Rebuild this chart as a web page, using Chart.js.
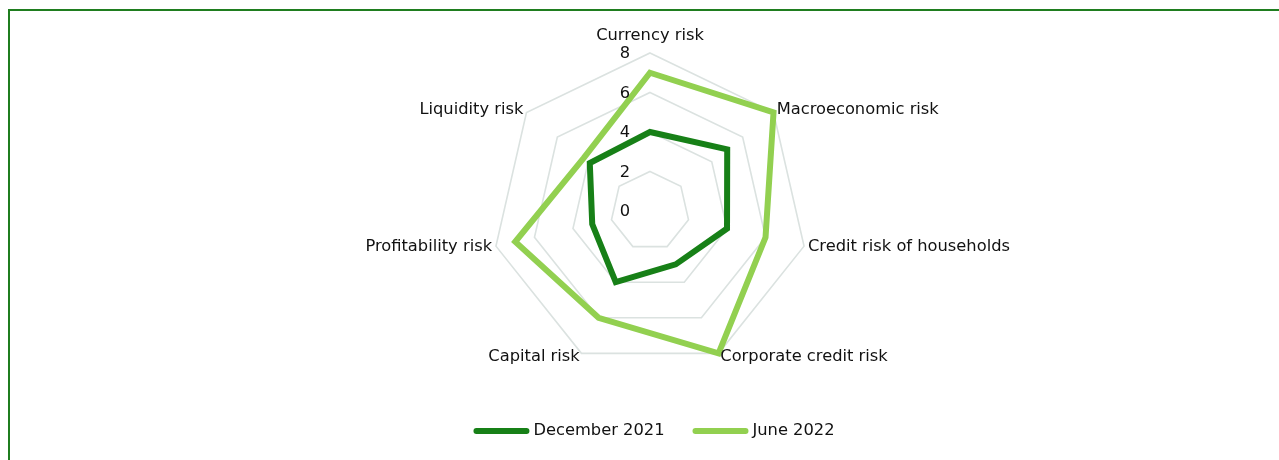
<!DOCTYPE html>
<html lang="en">
<head>
  <meta charset="UTF-8" />
  <title>Risk map</title>
  <style>
    body {
      margin: 0; padding: 0;
      background: #ffffff;
      font-family: 'DejaVu Sans', sans-serif;
    }
    .wrap {
      position: relative;
      width: 1279px;
      height: 460px;
      overflow: hidden;
    }
    .frame {
      position: absolute;
      left: 8px; top: 9px;
      width: 1400px; height: 600px;
      border-top: 2px solid #1f7d1f;
      border-left: 2px solid #1f7d1f;
    }
    canvas { position: absolute; left: 0; top: 0; }
  </style>
</head>
<body>
  <div class="wrap">
    <div class="frame"></div>
    <canvas id="riskChart" width="1279" height="460"></canvas>
  </div>

  <script src="https://cdn.jsdelivr.net/npm/chart.js"></script>
  <script>
    // Data
    const riskLabels = ['Currency risk', 'Macroeconomic risk', 'Credit risk of households',
      'Corporate credit risk', 'Capital risk', 'Profitability risk', 'Liquidity risk'];
    const dec2021 = [4, 5, 4, 3, 4, 3, 3.9];
    const jun2022 = [7, 8, 6, 8, 6, 7, 4.3];
    const tickValues = [0, 2, 4, 6, 8];

    const DARK = '#178017';
    const LIGHT = '#92d050';
    const FONT = "16.3px 'DejaVu Sans', sans-serif";

    // labels, ticks and legend drawn the Excel way
    const excelLook = {
      id: 'excelLook',
      afterDraw(chart) {
        const ctx = chart.ctx;
        const r = chart.scales.r;
        ctx.save();
        ctx.font = FONT;
        ctx.fillStyle = '#111111';
        ctx.textBaseline = 'middle';

        // category labels just outside the outer ring
        riskLabels.forEach((lab, i) => {
          const p = r.getPointPosition(i, r.drawingArea + 4);
          const cos = Math.cos(p.angle);
          let y = p.y;
          if (Math.abs(cos) < 0.01) {
            ctx.textAlign = 'center';
            y -= 13;
          } else {
            ctx.textAlign = cos > 0 ? 'left' : 'right';
          }
          ctx.fillText(lab, p.x, y);
        });

        // value ticks, left of the vertical axis
        ctx.textAlign = 'center';
        tickValues.forEach(v => {
          const d = r.getDistanceFromCenterForValue(v);
          ctx.fillText(String(v), r.xCenter - 25, r.yCenter - d + 1);
        });

        // legend
        const lineLen = 56, gap = 4, spacing = 28, ly = 431;
        const items = chart.data.datasets.map(ds => ({
          text: ds.label, color: ds.borderColor,
          w: lineLen + gap + ctx.measureText(ds.label).width
        }));
        const total = items.reduce((s, it) => s + it.w, 0) + spacing * (items.length - 1);
        let x = 654 - total / 2;
        ctx.textAlign = 'left';
        items.forEach(it => {
          ctx.strokeStyle = it.color;
          ctx.lineWidth = 6;
          ctx.lineCap = 'round';
          ctx.beginPath();
          ctx.moveTo(x + 3, ly);
          ctx.lineTo(x + lineLen - 3, ly);
          ctx.stroke();
          ctx.fillText(it.text, x + lineLen + gap, ly);
          x += it.w + spacing;
        });
        ctx.restore();
      }
    };

    new Chart(document.getElementById('riskChart'), {
      type: 'radar',
      data: {
        labels: riskLabels,
        datasets: [
          {
            label: 'December 2021',
            data: dec2021,
            borderColor: DARK,
            backgroundColor: DARK,
            borderWidth: 6,
            borderJoinStyle: 'miter',
            pointRadius: 0,
            fill: false
          },
          {
            label: 'June 2022',
            data: jun2022,
            borderColor: LIGHT,
            backgroundColor: LIGHT,
            borderWidth: 6,
            borderJoinStyle: 'miter',
            pointRadius: 0,
            fill: false
          }
        ]
      },
      options: {
        responsive: false,
        animation: false,
        devicePixelRatio: 1,
        layout: { padding: { top: 53, bottom: 91, left: 492, right: 471 } },
        plugins: {
          legend: { display: false },
          tooltip: { enabled: false }
        },
        scales: {
          r: {
            min: 0,
            max: 8,
            ticks: { stepSize: 2, display: false },
            pointLabels: { display: false },
            angleLines: { display: false },
            grid: { color: '#dbe2e0', lineWidth: 1.6 }
          }
        }
      },
      plugins: [excelLook]
    });
  </script>
</body>
</html>
